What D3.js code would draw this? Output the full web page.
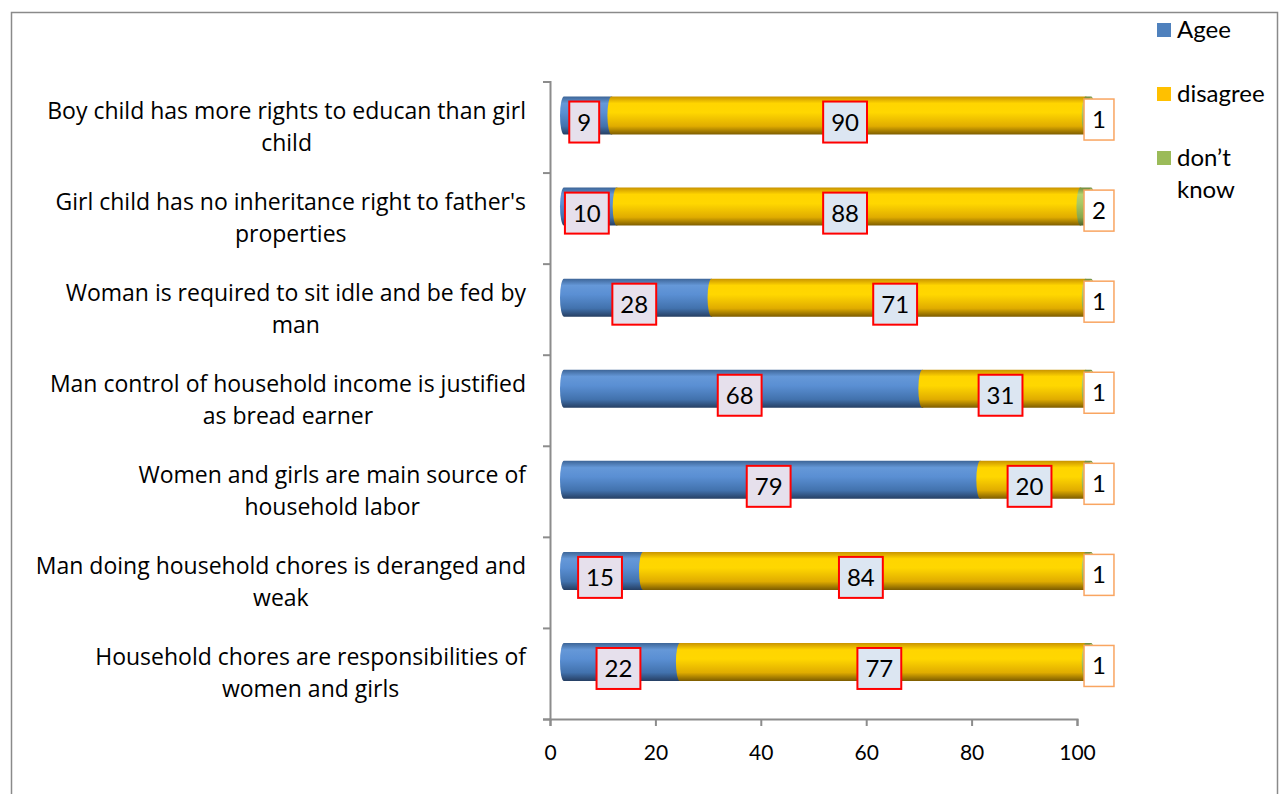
<!DOCTYPE html>
<html>
<head>
<meta charset="utf-8">
<script src="https://cdnjs.cloudflare.com/ajax/libs/d3/7.8.5/d3.min.js"></script>
<style>
  html, body { margin: 0; padding: 0; background: #fff; }
  svg { display: block; }
  text { font-family: Lato, "Open Sans", sans-serif; fill: #000; }
</style>
</head>
<body>
<svg id="chart" width="1280" height="794"></svg>
<script>
// Survey statements (top to bottom), each wrapped over two lines
const categories = [
  ["Boy child has more rights to educan than girl", "child"],
  ["Girl child has no inheritance right to father's", "properties"],
  ["Woman is required to sit idle and be fed by", "man"],
  ["Man control of household income is justified", "as bread earner"],
  ["Women and girls are main source of", "household labor"],
  ["Man doing household chores is deranged and", "weak"],
  ["Household chores are responsibilities of", "women and girls"]
];
// Percentages per response
const agree    = [9, 10, 28, 68, 79, 15, 22];
const disagree = [90, 88, 71, 31, 20, 84, 77];
const dontKnow = [1, 2, 1, 1, 1, 1, 1];
const seriesNames = ["Agee", "disagree", "don\u2019t know"];
const xTicks = [0, 20, 40, 60, 80, 100];

const colors = ["#4f81bd", "#ffc000", "#9bbb59"];
const shades = [
  ["#3d6597", "#6598d8", "#5a8fd3", "#4272ad", "#263f63"],
  ["#c99300", "#ffd500", "#ffd700", "#e0ac00", "#7d5c00"],
  ["#6f8a3c", "#b5d36e", "#a8c865", "#88a84c", "#4d6129"]
];

const svg = d3.select("#chart");
const defs = svg.append("defs");
shades.forEach((s, i) => {
  const g = defs.append("linearGradient")
    .attr("id", "cyl" + i).attr("x1", 0).attr("y1", 0).attr("x2", 0).attr("y2", 1);
  [0, 0.18, 0.42, 0.78, 1].forEach((o, k) =>
    g.append("stop").attr("offset", o).attr("stop-color", s[k]));
});

// outer frame
svg.append("rect")
  .attr("x", 11.5).attr("y", 12.5).attr("width", 1266).attr("height", 800)
  .attr("fill", "none").attr("stroke", "#8a8a8a").attr("stroke-width", 1.5);

const x = d3.scaleLinear().domain([0, 100]).range([550, 1077]);
const y = d3.scaleBand().domain(d3.range(categories.length)).range([81.5, 719]).padding(0);
const bw = y.bandwidth();

// depth offset of the 3D cylinders
const dx = 14, dy = -11.5, barH = 38, rx = 4;

// axes
const axisColor = "#8c8c8c";
const xAxis = svg.append("g").attr("transform", "translate(0,719)")
  .call(d3.axisBottom(x).tickValues(xTicks).tickSize(7).tickPadding(19).tickFormat(d3.format("d")));
const yIdx = d3.scaleLinear().domain([0, categories.length]).range([719, 81.5]);
const yAxis = svg.append("g").attr("transform", "translate(550,0)")
  .call(d3.axisLeft(yIdx).tickValues(d3.range(categories.length + 1)).tickSize(7).tickFormat(""));
[xAxis, yAxis].forEach(a => {
  a.select(".domain").attr("stroke", axisColor).attr("stroke-width", 2);
  a.selectAll(".tick line").attr("stroke", axisColor).attr("stroke-width", 2);
});
xAxis.selectAll(".tick text").attr("font-size", 21).attr("fill", "#000")
  .style("font-family", "Lato, sans-serif");

// stacked cylinder segments
const series = [agree, disagree, dontKnow];
const rows = categories.map((c, i) => {
  let cum = 0;
  return series.map((s, k) => {
    const seg = { row: i, k, v: s[i], x0: cum, x1: cum + s[i] };
    cum += s[i];
    return seg;
  });
});

function segPath(seg) {
  const cy = y(seg.row) + bw / 2 + dy;
  const t = cy - barH / 2, b = cy + barH / 2;
  const a = x(seg.x0) + dx, e = x(seg.x1) + dx;
  return `M${a},${t} L${e},${t} A${rx},${barH / 2} 0 0 1 ${e},${b} L${a},${b} A${rx},${barH / 2} 0 0 1 ${a},${t} Z`;
}

const barG = svg.append("g");
rows.forEach(r => {
  barG.selectAll(null).data(r).enter().append("path")
    .attr("d", segPath)
    .attr("fill", d => `url(#cyl${d.k})`);
  // lighter end face on the far right of the bar
  const last = r[r.length - 1];
  const cy = y(last.row) + bw / 2 + dy;
  barG.append("ellipse")
    .attr("cx", x(last.x1) + dx).attr("cy", cy)
    .attr("rx", rx).attr("ry", barH / 2 - 1)
    .attr("fill", "#b9d27c").attr("opacity", 0.8);
});

// data labels
const labG = svg.append("g");
const fills = ["#e6e0ec", "#dce6f2"];
function addLabel(cx, cy, txt, fill, stroke, sw) {
  const g = labG.append("g");
  const t = g.append("text").attr("x", cx).attr("y", cy + 8.5)
    .attr("text-anchor", "middle").attr("font-size", 24).text(txt);
  const w = t.node().getComputedTextLength() + 16;
  g.insert("rect", "text")
    .attr("x", cx - w / 2).attr("y", cy - 20.5).attr("width", w).attr("height", 41)
    .attr("fill", fill).attr("stroke", stroke).attr("stroke-width", sw);
}
rows.forEach(r => {
  const cy = y(r[0].row) + bw / 2 + dy;
  r.slice(0, 2).forEach(seg => {
    addLabel(x((seg.x0 + seg.x1) / 2) + 10.5, cy + 6.5, String(seg.v), fills[seg.k], "#ff0000", 2);
  });
  const dk = r[2];
  addLabel(x(dk.x1) + 22, cy + 4, String(dk.v), "#ffffff", "#f9a561", 1.5);
});

// category labels, each block centred and right-aligned to the axis
const catG = svg.append("g");
categories.forEach((lines, i) => {
  const cy = y(i) + bw / 2;
  const lh = 32;
  const g = catG.append("g");
  const ts = lines.map((ln, j) => g.append("text")
    .attr("y", cy - (lines.length - 1) * lh / 2 + j * lh + 8)
    .attr("text-anchor", "middle").attr("font-size", 23)
    .style("font-family", "'Open Sans', sans-serif").text(ln));
  const maxW = d3.max(ts, t => t.node().getComputedTextLength());
  ts.forEach(t => t.attr("x", 526 - maxW / 2));
});

// legend
const legG = svg.append("g");
const legY = [30, 94, 158];
seriesNames.forEach((n, i) => {
  legG.append("rect").attr("x", 1157).attr("y", legY[i] - 7).attr("width", 14).attr("height", 14)
    .attr("fill", colors[i]);
  const parts = i === 2 ? ["don\u2019t", "know"] : [n];
  parts.forEach((p, j) => legG.append("text")
    .attr("x", 1177).attr("y", legY[i] + 8 + j * 32).attr("font-size", 24).text(p));
});
</script>
</body>
</html>
